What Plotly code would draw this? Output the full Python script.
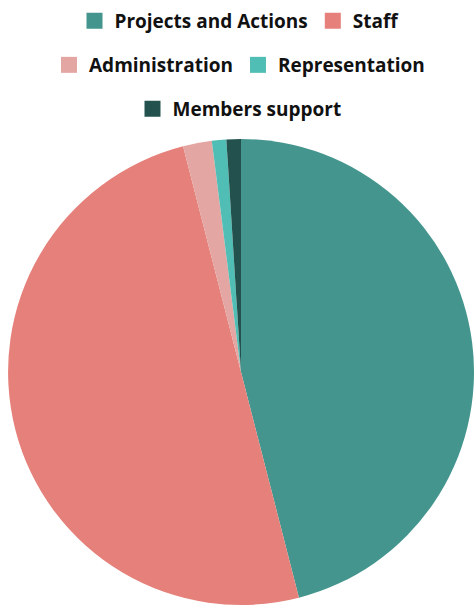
import plotly.graph_objects as go

labels = ["Projects and Actions", "Staff", "Administration", "Representation", "Members support"]
values = [46, 50, 2, 1, 1]
colors = ["#44958E", "#E5807A", "#E4A6A2", "#50BEB4", "#23524E"]
legend_rows = ["legend", "legend", "legend2", "legend2", "legend3"]

W, H = 474, 606

fig = go.Figure()
fig.add_trace(go.Pie(
    labels=labels,
    values=values,
    marker=dict(colors=colors, line=dict(width=0)),
    sort=False,
    direction="clockwise",
    rotation=0,
    textinfo="none",
    hoverinfo="label+percent",
    showlegend=False,
))

for lab, col, lg in zip(labels, colors, legend_rows):
    fig.add_trace(go.Scatter(
        x=[None], y=[None], mode="markers", name=lab,
        marker=dict(symbol="square", size=16, color=col),
        legend=lg, showlegend=True, hoverinfo="skip",
    ))

legend_font = dict(family="Open Sans", size=19, color="#111111", weight="bold")
def legend_at(y):
    return dict(
        orientation="h", xref="container", yref="container",
        x=239.5 / W, xanchor="center", y=y, yanchor="middle",
        font=legend_font, itemclick=False, itemdoubleclick=False,
        bgcolor="rgba(0,0,0,0)",
    )

fig.update_layout(
    width=W, height=H,
    margin=dict(l=8, r=0, t=138, b=0),
    paper_bgcolor="white", plot_bgcolor="white",
    xaxis=dict(visible=False), yaxis=dict(visible=False),
    showlegend=True,
    legend=legend_at(1 - 21 / H),
    legend2=legend_at(1 - 65 / H),
    legend3=legend_at(1 - 109 / H),
)

fig.write_html(
    "out.html",
    config={"displayModeBar": False},
    post_script="document.body.style.margin='0';document.body.style.overflow='hidden';",
)
